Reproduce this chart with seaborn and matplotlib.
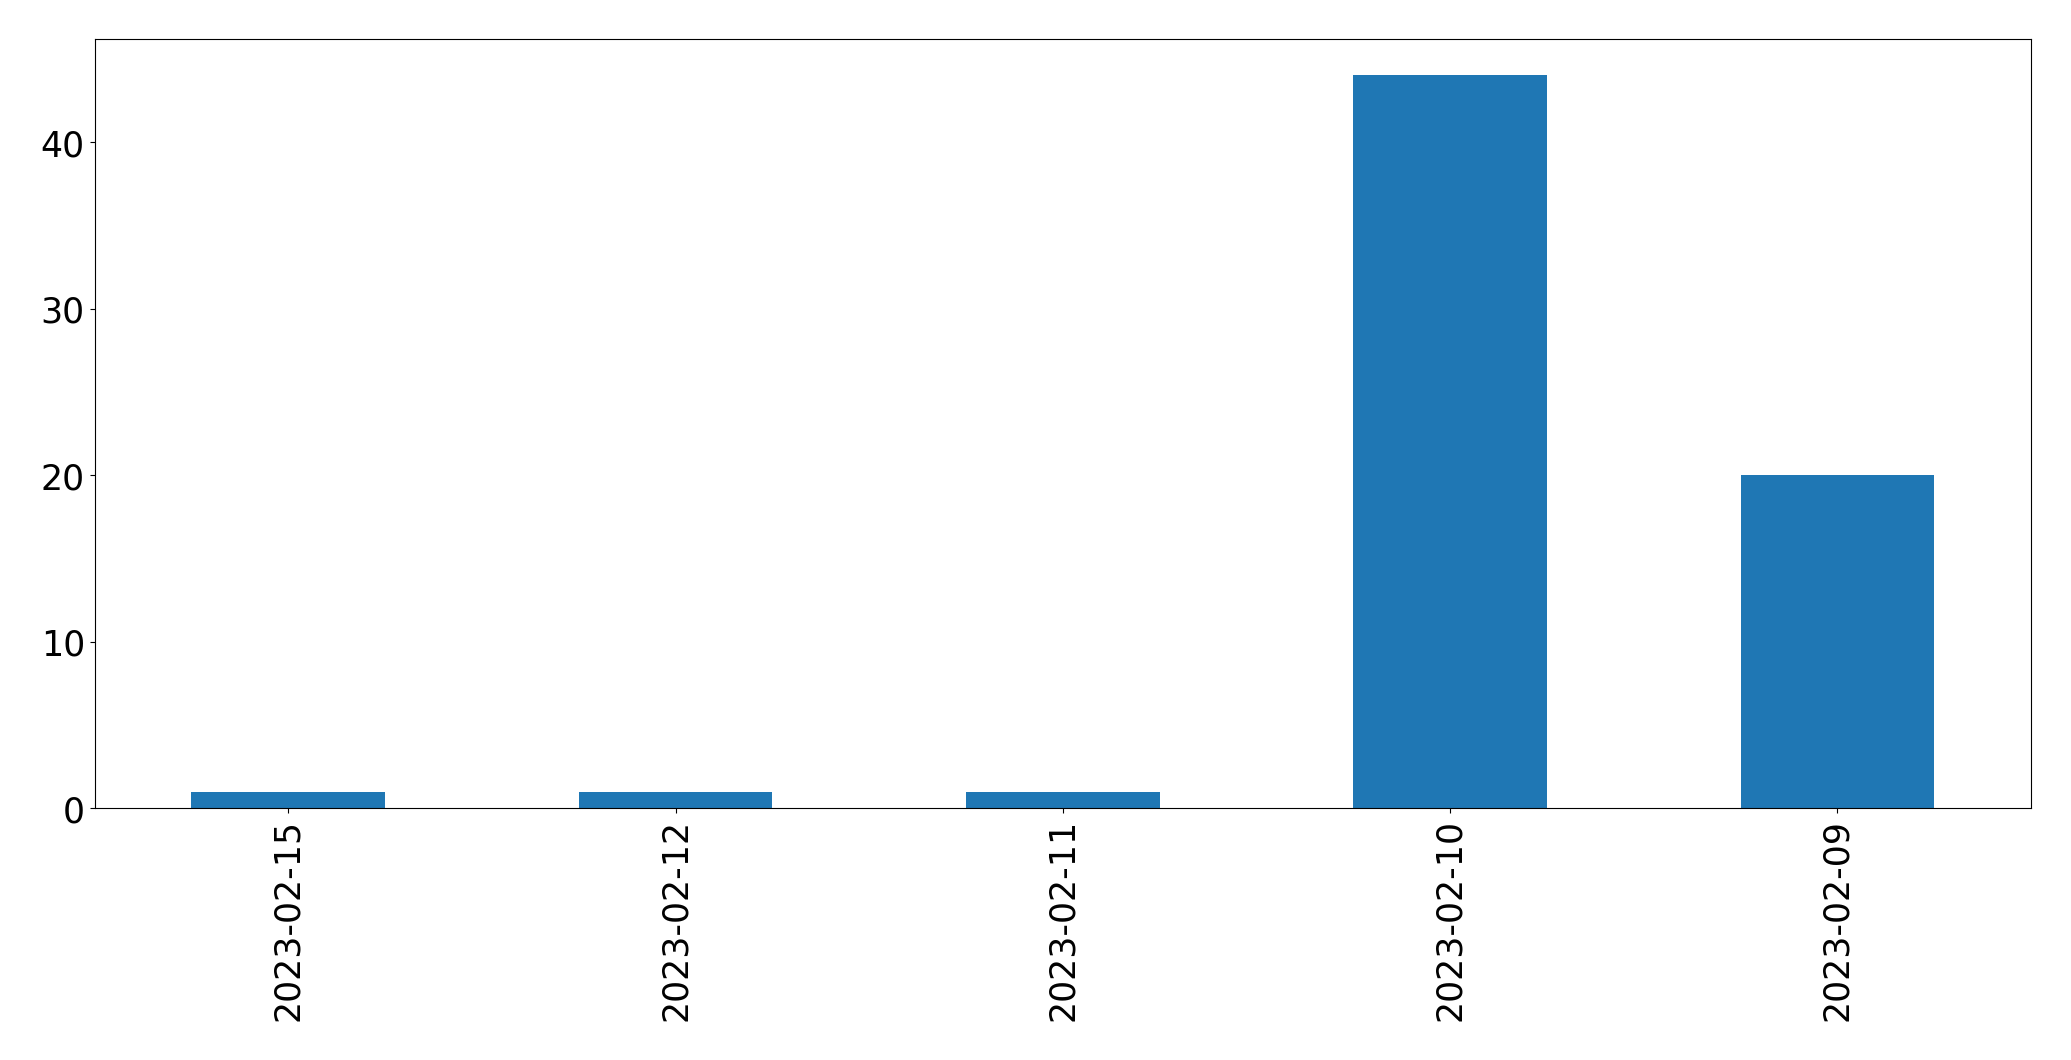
import matplotlib
matplotlib.use('Agg')
import matplotlib.pyplot as plt
import seaborn as sns
import pandas as pd

# Contagem por data (ordem como no gráfico original)
datas = ['2023-02-15', '2023-02-12', '2023-02-11', '2023-02-10', '2023-02-09']
contagens = [1, 1, 1, 44, 20]

df = pd.DataFrame({'data': datas, 'contagem': contagens})

fig, ax = plt.subplots(figsize=(20.71, 10.605), dpi=100)
fig.subplots_adjust(left=0.0457, right=0.9807, top=0.963, bottom=0.2372)

sns.barplot(data=df, x='data', y='contagem', order=datas, color='#1f77b4',
            saturation=1, width=0.5, linewidth=0, ax=ax)

ax.set_xlim(-0.5, len(datas) - 0.5)
ax.set_ylim(0, max(contagens) * 1.05)
ax.set_xlabel('')
ax.set_ylabel('')
ax.tick_params(axis='both', labelsize=25)
ax.tick_params(axis='x', labelrotation=90)

plt.savefig('out.png', dpi=100)
